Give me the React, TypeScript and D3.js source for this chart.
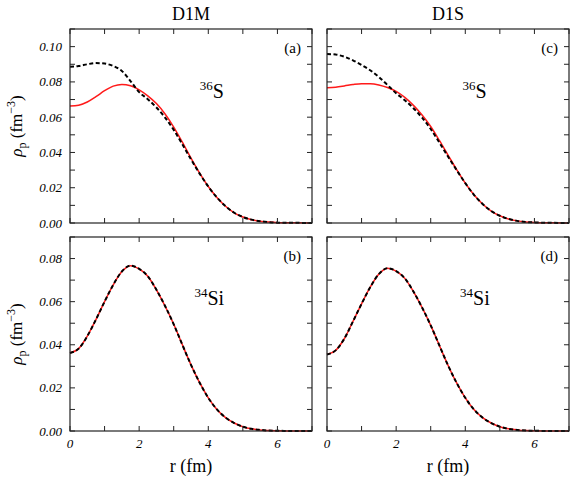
import React from "react";
import * as d3 from "d3";

// radial grid (fm)
const rValues = [0, 0.25, 0.5, 0.75, 1, 1.25, 1.5, 1.75, 2, 2.25, 2.5, 2.75, 3, 3.25, 3.5, 3.75, 4, 4.25, 4.5, 4.75, 5, 5.25, 5.5, 5.75, 6, 6.5, 7];

// (a) D1M 36S
const s36D1M_red = [0.0663, 0.0668, 0.0686, 0.0716, 0.0750, 0.0776, 0.0786, 0.0778, 0.0755, 0.0721, 0.0677, 0.0618, 0.0544, 0.0458, 0.0368, 0.0283, 0.0207, 0.0145, 0.0095, 0.0058, 0.0034, 0.0019, 0.0010, 0.0005, 0.0002, 0.0001, 0];
const s36D1M_black = [0.0886, 0.0890, 0.0900, 0.0907, 0.0904, 0.0890, 0.0862, 0.0805, 0.0742, 0.0702, 0.0655, 0.0598, 0.0528, 0.0446, 0.0361, 0.0280, 0.0207, 0.0145, 0.0095, 0.0058, 0.0034, 0.0019, 0.0010, 0.0005, 0.0002, 0.0001, 0];

// (c) D1S 36S
const s36D1S_red = [0.0767, 0.0770, 0.0777, 0.0785, 0.0790, 0.0790, 0.0783, 0.0768, 0.0746, 0.0712, 0.0667, 0.0612, 0.0547, 0.0468, 0.0385, 0.0303, 0.0226, 0.0160, 0.0108, 0.0068, 0.0041, 0.0023, 0.0012, 0.0006, 0.0003, 0.0001, 0];
const s36D1S_black = [0.0958, 0.0955, 0.0943, 0.0922, 0.0896, 0.0866, 0.0828, 0.0782, 0.0736, 0.0696, 0.0651, 0.0597, 0.0533, 0.0456, 0.0377, 0.0300, 0.0226, 0.0160, 0.0108, 0.0068, 0.0041, 0.0023, 0.0012, 0.0006, 0.0003, 0.0001, 0];

// (b) D1M 34Si
const si34D1M_red = [0.0362, 0.0382, 0.0440, 0.0517, 0.0600, 0.0678, 0.0740, 0.0767, 0.0752, 0.0718, 0.0655, 0.0580, 0.0495, 0.0400, 0.0307, 0.0224, 0.0154, 0.0100, 0.0062, 0.0037, 0.0020, 0.0010, 0.0005, 0.0002, 0.0001, 0, 0];
const si34D1M_black = [0.0362, 0.0382, 0.0440, 0.0517, 0.0600, 0.0678, 0.0740, 0.0767, 0.0752, 0.0718, 0.0655, 0.0580, 0.0495, 0.0400, 0.0307, 0.0224, 0.0154, 0.0100, 0.0062, 0.0037, 0.0020, 0.0010, 0.0005, 0.0002, 0.0001, 0, 0];

// (d) D1S 34Si
const si34D1S_red = [0.0355, 0.0374, 0.0428, 0.0508, 0.0590, 0.0667, 0.0728, 0.0755, 0.0742, 0.0708, 0.0647, 0.0573, 0.0490, 0.0397, 0.0305, 0.0223, 0.0154, 0.0100, 0.0062, 0.0037, 0.0020, 0.0010, 0.0005, 0.0002, 0.0001, 0, 0];
const si34D1S_black = [0.0355, 0.0374, 0.0428, 0.0508, 0.0590, 0.0667, 0.0728, 0.0755, 0.0742, 0.0708, 0.0647, 0.0573, 0.0490, 0.0397, 0.0305, 0.0223, 0.0154, 0.0100, 0.0062, 0.0037, 0.0020, 0.0010, 0.0005, 0.0002, 0.0001, 0, 0];

const xTickLabels = [0, 2, 4, 6];
const yTickLabelsTop = [0, 0.02, 0.04, 0.06, 0.08, 0.1];
const yTickLabelsBottom = [0, 0.02, 0.04, 0.06, 0.08];
const columnTitles = ["D1M", "D1S"];

const FONT = "Liberation Serif, DejaVu Serif, Tinos, Times New Roman, Noto Serif, serif";

type Panel = {
  x0: number; x1: number; y0: number; y1: number;
  ymax: number; red: number[]; black: number[];
  tag: string; mass: string; elem: string;
  labelR: number; labelV: number;
  showYLabels: boolean; showXLabels: boolean; yLabels: number[];
};

const panels: Panel[] = [
  { x0: 70, x1: 312, y0: 29, y1: 223, ymax: 0.11, red: s36D1M_red, black: s36D1M_black, tag: "(a)", mass: "36", elem: "S", labelR: 3.75, labelV: 0.0708, showYLabels: true, showXLabels: false, yLabels: yTickLabelsTop },
  { x0: 327, x1: 569, y0: 29, y1: 223, ymax: 0.11, red: s36D1S_red, black: s36D1S_black, tag: "(c)", mass: "36", elem: "S", labelR: 3.92, labelV: 0.0708, showYLabels: false, showXLabels: false, yLabels: yTickLabelsTop },
  { x0: 70, x1: 312, y0: 237, y1: 431, ymax: 0.09, red: si34D1M_red, black: si34D1M_black, tag: "(b)", mass: "34", elem: "Si", labelR: 3.6, labelV: 0.0585, showYLabels: true, showXLabels: true, yLabels: yTickLabelsBottom },
  { x0: 327, x1: 569, y0: 237, y1: 431, ymax: 0.09, red: si34D1S_red, black: si34D1S_black, tag: "(d)", mass: "34", elem: "Si", labelR: 3.85, labelV: 0.0585, showYLabels: false, showXLabels: true, yLabels: yTickLabelsBottom },
];

const txt = { fontFamily: FONT };

const PanelView = ({ p }: { p: Panel }) => {
  const x = d3.scaleLinear().domain([0, 7]).range([p.x0, p.x1]);
  const y = d3.scaleLinear().domain([0, p.ymax]).range([p.y1, p.y0]);
  const line = d3.line<number>()
    .x((_, i) => x(rValues[i]))
    .y(d => y(d))
    .curve(d3.curveMonotoneX);
  const xt = d3.range(0, 8, 1);
  const yt = d3.range(0, p.ymax + 1e-9, 0.01);
  const tl = 5;
  return (
    <g>
      <path d={line(p.red) || ""} fill="none" stroke="#ff1a1a" strokeWidth={1.5} />
      <path d={line(p.black) || ""} fill="none" stroke="#000" strokeWidth={2} strokeDasharray="4,2.5" />
      {xt.map(v => (
        <g key={"x" + v} stroke="#222" strokeWidth={1}>
          <line x1={x(v)} x2={x(v)} y1={p.y1} y2={p.y1 - tl} />
          <line x1={x(v)} x2={x(v)} y1={p.y0} y2={p.y0 + tl} />
        </g>
      ))}
      {yt.map((v, i) => (
        <g key={"y" + i} stroke="#222" strokeWidth={1}>
          <line x1={p.x0} x2={p.x0 + tl} y1={y(v)} y2={y(v)} />
          <line x1={p.x1} x2={p.x1 - tl} y1={y(v)} y2={y(v)} />
        </g>
      ))}
      <rect x={p.x0} y={p.y0} width={p.x1 - p.x0} height={p.y1 - p.y0} fill="none" stroke="#222" strokeWidth={1.2} />
      {p.showYLabels && p.yLabels.map(v => (
        <text key={"yl" + v} x={p.x0 - 8} y={y(v)} dy="0.35em" textAnchor="end" style={txt} fontStyle="italic" fontSize={13}>
          {v.toFixed(2)}
        </text>
      ))}
      {p.showXLabels && xTickLabels.map(v => (
        <text key={"xl" + v} x={x(v)} y={p.y1 + 17} textAnchor="middle" style={txt} fontStyle="italic" fontSize={13}>
          {v}
        </text>
      ))}
      <text x={p.x1 - 11} y={p.y0 + 24} textAnchor="end" style={txt} fontSize={15}>{p.tag}</text>
      <text x={x(p.labelR)} y={y(p.labelV)} style={txt} fontSize={20}>
        <tspan fontSize={13} dy={-8}>{p.mass}</tspan>
        <tspan dy={8}>{p.elem}</tspan>
      </text>
    </g>
  );
};

const YLabel = ({ cy }: { cy: number }) => (
  <text transform={`translate(22,${cy}) rotate(-90)`} textAnchor="middle" style={txt} fontSize={17}>
    <tspan fontStyle="italic">ρ</tspan>
    <tspan fontSize={12} dy={4}>p</tspan>
    <tspan dy={-4}> (fm</tspan>
    <tspan fontSize={12} dy={-7}>−3</tspan>
    <tspan dy={7}>)</tspan>
  </text>
);

export default function App() {
  return (
    <svg width={573} height={480} style={{ position: "absolute", left: 0, top: 0, background: "#fff" }}>
      {panels.map((p, i) => <PanelView key={i} p={p} />)}
      {columnTitles.map((t, i) => (
        <text key={t} x={(panels[i].x0 + panels[i].x1) / 2} y={20} textAnchor="middle" style={txt} fontSize={18}>{t}</text>
      ))}
      {[0, 1].map(i => (
        <text key={"xlab" + i} x={(panels[i].x0 + panels[i].x1) / 2} y={472} textAnchor="middle" style={txt} fontSize={18}>r (fm)</text>
      ))}
      <YLabel cy={126} />
      <YLabel cy={334} />
    </svg>
  );
}
